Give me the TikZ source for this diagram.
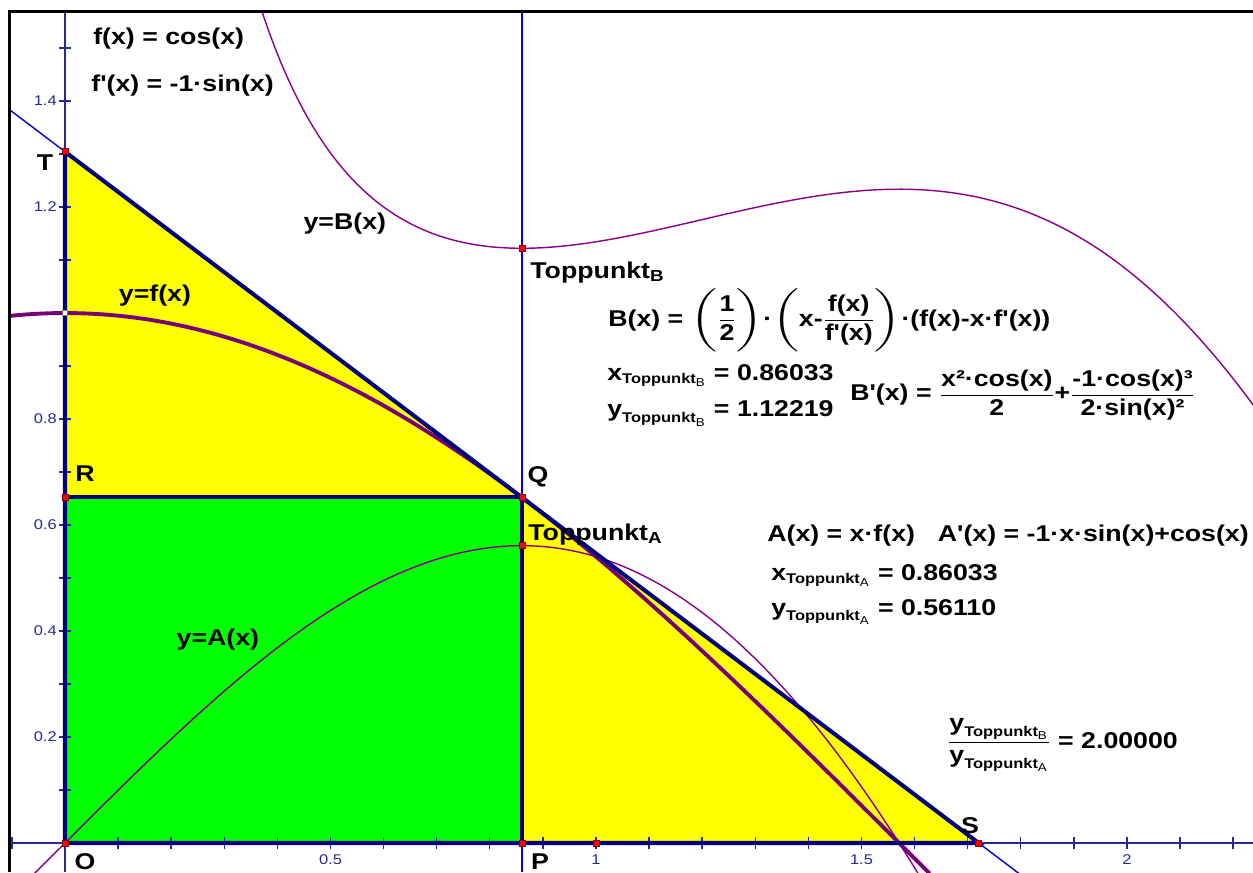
\documentclass[tikz,border=0pt]{standalone}
\usepackage{amsmath}
\usepackage{graphicx}
\usepackage{fontspec}
\setmainfont{Liberation Sans}[FakeStretch=1.17, Ligatures=TeXOff]
\usepackage{tikz}
\usetikzlibrary{calc}

\definecolor{navyline}{RGB}{0,0,128}
\definecolor{axisblue}{RGB}{40,40,150}
\definecolor{guideblue}{RGB}{0,0,220}
\definecolor{curvepurple}{RGB}{140,0,140}
\definecolor{areayellow}{RGB}{255,255,0}
\definecolor{areagreen}{RGB}{0,255,0}

\newcommand{\tp}[2]{\text{#1}_{\text{\fontsize{8}{9}\selectfont Toppunkt}_{\text{\mdseries #2}}}}
\newcommand{\gspL}{\mathopen{\text{\scalebox{1.6}[1]{$\Biggl($}}}}
\newcommand{\gspR}{\mathclose{\text{\scalebox{1.6}[1]{$\Biggr)$}}}}

\begin{document}
\begin{tikzpicture}[x=10.62cm, y=10.6cm,
    lbl/.style={font=\fontsize{13}{15.6}\selectfont\bfseries, inner sep=0pt},
    axislbl/.style={font=\fontsize{8}{9.6}\selectfont, text=axisblue, inner sep=0pt},
    pt/.style={rectangle, fill=red, draw=red!55!black, line width=0.3pt, minimum size=0.12cm, inner sep=0pt},
    hollowpt/.style={rectangle, fill=white, draw=black!50, line width=0.3pt, minimum size=0.1cm, inner sep=0pt},
    edge/.style={navyline, line width=2.3pt},
    curve/.style={curvepurple, line width=0.8pt},
    fcurve/.style={curvepurple!85!black, line width=2.2pt},
    axisline/.style={axisblue, line width=0.8pt},
    guide/.style={guideblue, line width=0.8pt},
]

\useasboundingbox (-0.1224,-0.0547) rectangle (2.2373,1.5906);

% key points
\coordinate (O) at (0,0);
\coordinate (T) at (0,1.30437);
\coordinate (S) at (1.72067,0);
\coordinate (Q) at (0.86033,0.65218);
\coordinate (P) at (0.86033,0);
\coordinate (R) at (0,0.65218);
\coordinate (topB) at (0.86033,1.12219);
\coordinate (topA) at (0.86033,0.56110);
\coordinate (one) at (1,0);
\coordinate (fzero) at (0,1);

% ends of the long lines
\coordinate (frameBL) at (-0.1036,-0.0547);
\coordinate (frameTL) at (-0.1036,1.5698);
\coordinate (frameTR) at (2.2373,1.5698);
\coordinate (xL) at (-0.1036,0);
\coordinate (xR) at (2.2373,0);
\coordinate (yB) at (0,-0.0547);
\coordinate (yT) at (0,1.5698);
\coordinate (vB) at (0.86033,-0.0547);
\coordinate (vT) at (0.86033,1.5698);
\coordinate (tanL) at ($(T)!-0.0602!(S)$);
\coordinate (tanR) at ($(T)!1.05!(S)$);

\begin{scope}
\clip (frameBL) rectangle (frameTR);

% areas
\fill[areayellow] (O) -- (T) -- (S) -- cycle;
\fill[areagreen] (O) rectangle (Q);

% axes
\draw[axisline] (xL) -- (xR);
\draw[axisline] (yB) -- (yT);
\foreach \i in {-1,...,22}
    \draw[axisline] (\i/10,-0.0113) -- (\i/10,0.0113);
\foreach \i in {1,...,15}
    \draw[axisline] (-0.0113,\i/10) -- (0.0113,\i/10);

% tangent and vertical line
\draw[guide] (tanL) -- (tanR);
\draw[guide] (vB) -- (vT);

% graphs
\draw[curve] plot[domain=-0.07:1.62, samples=120] (\x, {\x*cos(\x r)});
\draw[curve] plot[domain=0.36:2.24, samples=160]
    (\x, {0.5*(\x + cos(\x r)/sin(\x r))*(cos(\x r) + \x*sin(\x r))});
\draw[fcurve] plot[domain=-0.104:1.63, samples=120] (\x, {cos(\x r)});

% triangle and rectangle edges
\draw[edge] (O) -- (T) -- (S) -- cycle;
\draw[edge] (R) -- (Q) -- (P);
\end{scope}

% frame
\draw[black, line width=1.7pt] (frameBL) -- (frameTL) -- (frameTR);

% axis labels
\foreach \v [count=\k] in {0.5,1,1.5,2}
    \node[axislbl] (xlab\k) at (\v,-0.032) {\v};
\foreach \v [count=\k] in {0.2,0.4,0.6,0.8,1.2,1.4}
    \node[axislbl, anchor=east] (ylab\k) at (-0.015,\v) {\v};

% points
\node[hollowpt] (fzeropt) at (fzero) {};
\foreach \p in {O,T,S,Q,P,R,topB,topA,one}
    \node[pt] (\p pt) at (\p) {};

% point names
\node[lbl] (Tname) at (-0.0377,1.283) {T};
\node[lbl] (Rname) at (0.0377,0.696) {R};
\node[lbl] (Qname) at (0.891,0.6906) {Q};
\node[lbl] (Sname) at (1.7043,0.032) {S};
\node[lbl] (Oname) at (0.0377,-0.035) {O};
\node[lbl] (Pname) at (0.8945,-0.035) {P};

% graph names
\node[lbl] (Bname) at (0.527,1.168) {y=B(x)};
\node[lbl] (fname) at (0.1695,1.032) {y=f(x)};
\node[lbl] (Aname) at (0.288,0.383) {y=A(x)};

% definitions
\node[lbl, anchor=base west] (fdef) at (0.0527,1.5057) {f(x) = cos(x)};
\node[lbl, anchor=base west] (fpdef) at (0.049,1.417) {f'(x) = -1·sin(x)};

% top point of B
\node[lbl, anchor=base west] (topBname) at (0.8757,1.066) {Toppunkt$_{\text{B}}$};
\node[lbl, anchor=base west] (Bdef) at (1.0226,0.9755)
    {$\displaystyle \text{B(x) = }\gspL\frac{\text{1}}{\text{2}}\gspR\text{·}\gspL\text{x-}\frac{\text{f(x)}}{\text{f'(x)}}\gspR\text{·(f(x)-x·f'(x))}$};
\node[lbl, anchor=base west] (xtopB) at (1.0207,0.8736) {$\tp{x}{B}$ = 0.86033};
\node[lbl, anchor=base west] (ytopB) at (1.0207,0.8038) {$\tp{y}{B}$ = 1.12219};
\node[lbl, anchor=base west] (Bpdef) at (1.4783,0.834)
    {$\displaystyle \text{B'(x) = }\frac{\text{x²·cos(x)}}{\text{2}}\text{+}\frac{\text{-1·cos(x)³}}{\text{2·sin(x)²}}$};

% top point of A
\node[lbl, anchor=base west] (topAname) at (0.872,0.5717) {Toppunkt$_{\text{A}}$};
\node[lbl, anchor=base west] (Adef) at (1.322,0.5698) {A(x) = x·f(x)\quad A'(x) = -1·x·sin(x)+cos(x)};
\node[lbl, anchor=base west] (xtopA) at (1.3296,0.4962) {$\tp{x}{A}$ = 0.86033};
\node[lbl, anchor=base west] (ytopA) at (1.3296,0.4302) {$\tp{y}{A}$ = 0.56110};

% ratio
\node[lbl, anchor=base west] (ratio) at (1.661,0.1792)
    {$\displaystyle \frac{\tp{y}{B}}{\tp{y}{A}}\text{ = 2.00000}$};

\end{tikzpicture}
\end{document}
